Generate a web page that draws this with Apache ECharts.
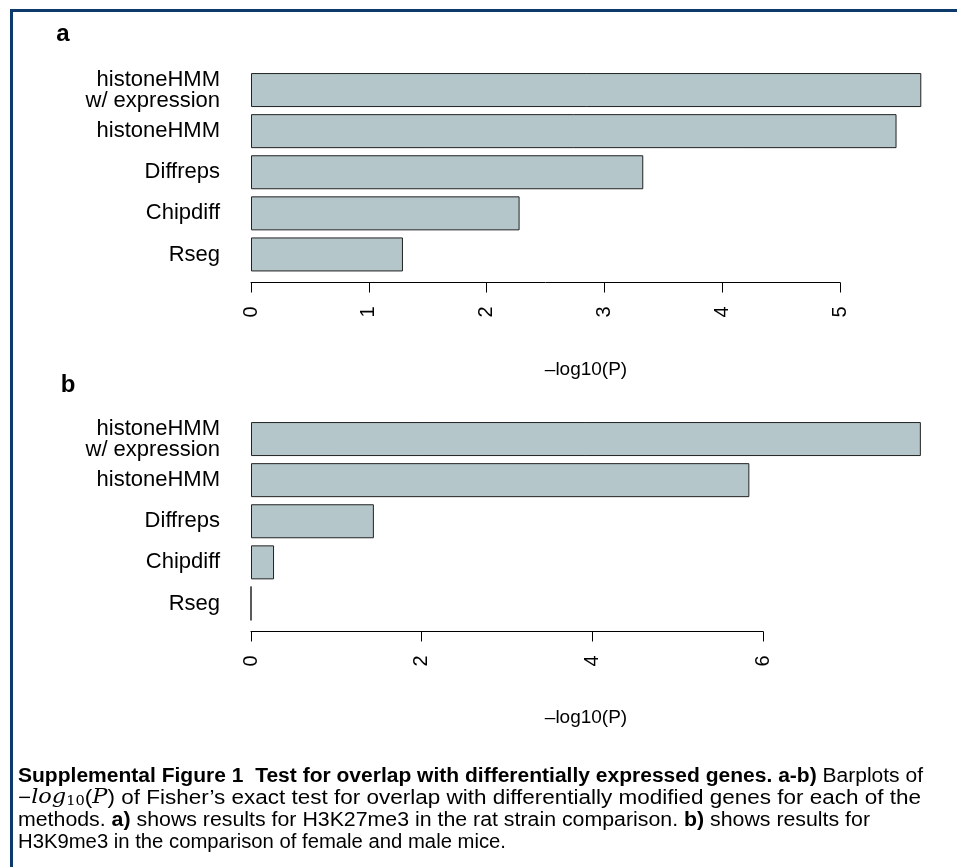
<!DOCTYPE html>
<html>
<head>
<meta charset="utf-8">
<script src="https://cdn.jsdelivr.net/npm/echarts@6/dist/echarts.min.js"></script>
<style>
html,body{margin:0;padding:0;background:#fff;}
#chart{width:957px;height:867px;}
</style>
</head>
<body>
<div id="chart"></div>
<script>
// ---- data ----
const categories = ['histoneHMM\nw/ expression', 'histoneHMM', 'Diffreps', 'Chipdiff', 'Rseg'];
const valuesA = [5.69, 5.48, 3.33, 2.28, 1.29];
const valuesB = [7.85, 5.84, 1.44, 0.27, 0];
const ticksA = [0, 1, 2, 3, 4, 5];
const ticksB = [0, 2, 4, 6];
const axisTitle = '\u2013log10(P)';

const FONT = '"Liberation Sans", Arial, Helvetica, sans-serif';
const SERIF = '"DejaVu Serif", "Liberation Serif", serif';
const chart = echarts.init(document.getElementById('chart'), null, {renderer: 'canvas'});

const CAP = 20;
const rich = {
  n: {fontSize: CAP, fontFamily: FONT, fill: '#000'},
  b: {fontSize: CAP, fontFamily: FONT, fontWeight: 'bold', fill: '#000'},
  i: {fontSize: CAP, fontFamily: SERIF, fontStyle: 'italic', fill: '#000'},
  s: {fontSize: 13, fontFamily: SERIF, fill: '#000', padding: [8, 0, 0, 0]}
};
const fontOf = {
  n: CAP + 'px ' + FONT,
  b: 'bold ' + CAP + 'px ' + FONT,
  i: 'italic ' + CAP + 'px ' + SERIF,
  s: '13px ' + SERIF
};
// caption lines as [style, text] fragments, with target widths (layout)
const capLines = [
  {w: 905, f: [['b', 'Supplemental Figure 1  Test for overlap with differentially expressed genes. a-b)'], ['n', ' Barplots of']]},
  {w: 903, f: [['n', '\u2212'], ['i', 'log'], ['s', '10'], ['n', '('], ['i', 'P'], ['n', ') of Fisher\u2019s exact test for overlap with differentially modified genes for each of the']]},
  {w: 852, f: [['n', 'methods. '], ['b', 'a)'], ['n', ' shows results for H3K27me3 in the rat strain comparison. '], ['b', 'b)'], ['n', ' shows results for']]},
  {w: 488, f: [['n', 'H3K9me3 in the comparison of female and male mice.']]}
];
const cv = document.createElement('canvas').getContext('2d');
function measure(frags){ let s = 0; frags.forEach(([k, t]) => { cv.font = fontOf[k]; s += cv.measureText(t).width; }); return s; }

function xAxisCfg(gridIndex, max, interval){
  return {
    type: 'value', gridIndex, min: 0, max, interval,
    offset: 7.5,
    axisLine: {show: true, lineStyle: {color: '#000', width: 1}},
    axisTick: {show: true, length: 10, lineStyle: {color: '#000', width: 1}},
    splitLine: {show: false},
    axisLabel: {rotate: 90, margin: 24, fontSize: 20, color: '#000', fontFamily: FONT,
      formatter: v => String(v)}
  };
}
function yAxisCfg(gridIndex){
  return {
    type: 'category', gridIndex, data: categories, inverse: true,
    axisLine: {show: false}, axisTick: {show: false}, splitLine: {show: false},
    axisLabel: {margin: 31, fontSize: 22, lineHeight: 21, color: '#000', fontFamily: FONT}
  };
}
function barCfg(idx, data){
  return {
    type: 'bar', xAxisIndex: idx, yAxisIndex: idx, data, clip: false,
    barWidth: 34,
    itemStyle: {color: '#b4c6c9', borderColor: '#222', borderWidth: 1},
    emphasis: {disabled: true}, animation: false
  };
}

const graphics = [
  {type: 'rect', shape: {x: 10, y: 9, width: 947, height: 3}, style: {fill: '#0b3a6b'}, silent: true},
  {type: 'rect', shape: {x: 10, y: 9, width: 3, height: 858}, style: {fill: '#0b3a6b'}, silent: true},
  {type: 'text', x: 63, y: 34, style: {text: 'a', fontSize: 24, fontWeight: 'bold', fontFamily: FONT, fill: '#000', align: 'center', verticalAlign: 'middle'}},
  {type: 'text', x: 68, y: 385, style: {text: 'b', fontSize: 24, fontWeight: 'bold', fontFamily: FONT, fill: '#000', align: 'center', verticalAlign: 'middle'}},
  {type: 'text', x: 586, y: 370, style: {text: axisTitle, fontSize: 19, fontFamily: FONT, fill: '#000', align: 'center', verticalAlign: 'middle'}},
  {type: 'text', x: 586, y: 718, style: {text: axisTitle, fontSize: 19, fontFamily: FONT, fill: '#000', align: 'center', verticalAlign: 'middle'}}
];
capLines.forEach((ln, k) => {
  const text = ln.f.map(([st, t]) => '{' + st + '|' + t + '}').join('');
  const sc = ln.w / measure(ln.f);
  graphics.push({type: 'text', x: 18, y: 776 + k * 22, scaleX: sc,
    style: {text, rich, fontSize: CAP, fontFamily: FONT, fill: '#000', align: 'left', verticalAlign: 'middle'}});
});

chart.setOption({
  animation: false,
  backgroundColor: '#fff',
  grid: [
    {left: 251, width: 589, top: 69.5, height: 205.5},
    {left: 251, width: 512, top: 418.5, height: 205.5}
  ],
  xAxis: [xAxisCfg(0, 5, 1), xAxisCfg(1, 6, 2)],
  yAxis: [yAxisCfg(0), yAxisCfg(1)],
  series: [barCfg(0, valuesA), barCfg(1, valuesB)],
  graphic: graphics
});
</script>
</body>
</html>
